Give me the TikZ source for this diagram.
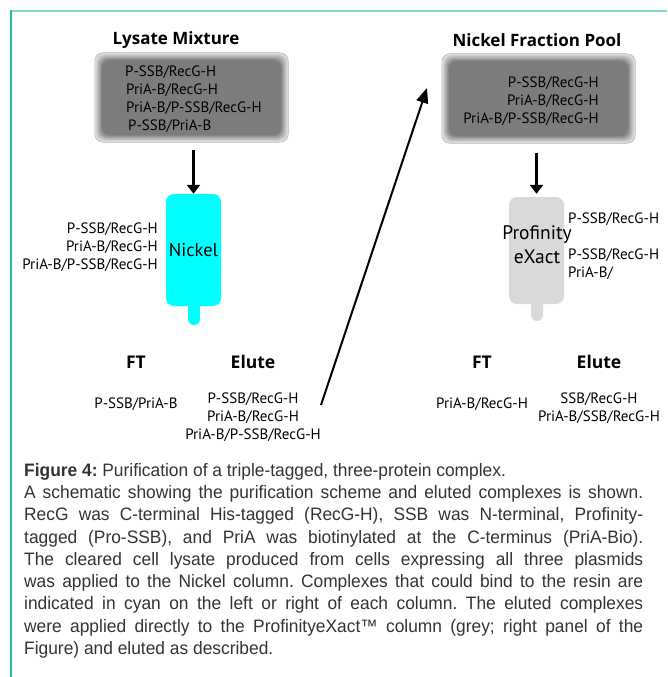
\documentclass[tikz,border=0pt]{standalone}
\usepackage{fontspec}
\setmainfont{PT Sans}
\newfontfamily\capfont[FakeStretch=0.965]{Liberation Sans}
\newfontfamily\hdrfont{Open Sans}
\usetikzlibrary{arrows.meta}
\definecolor{topline}{HTML}{80DAC8}
\definecolor{leftline}{HTML}{22C0A8}
\definecolor{colcyan}{HTML}{00FFFF}
\definecolor{colgrey}{HTML}{D9D9D9}
\definecolor{captext}{HTML}{333333}
\tikzset{
  lbl/.style={inner sep=0, font=\fontsize{15}{18}\selectfont},
  ttl/.style={inner sep=0, font=\hdrfont\fontsize{17}{20}\selectfont\bfseries},
  hdr/.style={inner sep=0, font=\hdrfont\fontsize{17.5}{20}\selectfont\bfseries},
  boxframe/.style={minimum width=193, minimum height=89, inner sep=0},
  column/.style={minimum width=55, rounded corners=8, inner sep=0},
  downarrow/.style={line width=2.6pt, -{Triangle[width=13pt,length=9pt]}},
  longarrow/.style={line width=2pt, -{Triangle[width=12pt,length=15pt]}}
}
\newcommand{\shadedbox}[1]{%
  \foreach \i [evaluate=\i as \c using 10+\i*4.6] in {0,...,9}{%
    \fill[black!\c, rounded corners=8]
      ([shift={(\i*0.8,\i*0.8)}]#1.north west) rectangle
      ([shift={(-\i*0.8,-\i*0.8)}]#1.south east);
  }%
  \draw[black!30, line width=0.6pt, rounded corners=8] (#1.north west) rectangle (#1.south east);
}
\begin{document}
\begin{tikzpicture}[x=1pt, y=-1pt]
\useasboundingbox (0,0) rectangle (667,677);
% frame lines
\draw[topline, line width=2.2pt] (10,11) -- (667,11);
\draw[leftline, line width=1.6pt] (10.8,10) -- (10.8,677);

% ---------- left panel ----------
\node[ttl] (t1) at (176,40) {Lysate Mixture};
\node[boxframe] (box1) at (191.5,97.5) {};
\shadedbox{box1}
\node[lbl, anchor=west] (b1l1) at (125,72) {P-SSB/RecG-H};
\node[lbl, anchor=west] (b1l2) at (126,90) {PriA-B/RecG-H};
\node[lbl, anchor=west] (b1l3) at (126,108) {PriA-B/P-SSB/RecG-H};
\node[lbl, anchor=west] (b1l4) at (128,126) {P-SSB/PriA-B};

\fill[colcyan, rounded corners=6] (188,290) rectangle (200,325);
\node[column, minimum height=112, fill=colcyan, font=\fontsize{18.5}{20}\selectfont] (col1) at (193.5,250) {Nickel};
\draw[downarrow, shorten <=8pt] (box1.south -| col1.north) -- (col1.north);

\node[lbl, anchor=east, align=right] (nilab) at (158,247) {P-SSB/RecG-H\\PriA-B/RecG-H\\PriA-B/P-SSB/RecG-H};

\node[hdr] (ft1) at (136,362) {FT};
\node[hdr] (el1) at (253,362) {Elute};
\node[lbl] (ft1l) at (136,404) {P-SSB/PriA-B};
\node[lbl, align=center] (el1l) at (253,417) {P-SSB/RecG-H\\PriA-B/RecG-H\\PriA-B/P-SSB/RecG-H};

% long arrow
\coordinate (la1) at (321,405);
\coordinate (la2) at (427,88);
\draw[longarrow] (la1) -- (la2);

% ---------- right panel ----------
\node[ttl] (t2) at (537,40) {Nickel Fraction Pool};
\node[boxframe] (box2) at (538.5,98.5) {};
\shadedbox{box2}
\node[lbl, anchor=east, align=right] (b2l) at (599,101) {P-SSB/RecG-H\\PriA-B/RecG-H\\PriA-B/P-SSB/RecG-H};

\fill[colgrey, rounded corners=6] (531,290) rectangle (543,321);
\node[column, minimum height=107, fill=colgrey] (col2) at (536.5,250.5) {};
\node[inner sep=0, align=center, font=\fontsize{19.5}{24}\selectfont] (col2t) at (537,245) {Profinity\\eXact};
\draw[downarrow, shorten <=10pt, shorten >=3pt] (box2.south -| col2.north) -- (col2.north);

\node[lbl, anchor=west] (pr1) at (568,219) {P-SSB/RecG-H};
\node[lbl, anchor=west, align=left] (pr2) at (568,264) {P-SSB/RecG-H\\PriA-B/};

\node[hdr] (ft2) at (482,362) {FT};
\node[hdr] (el2) at (599,362) {Elute};
\node[lbl] (ft2l) at (482,404) {PriA-B/RecG-H};
\node[lbl, align=center] (el2l) at (599,408) {SSB/RecG-H\\PriA-B/SSB/RecG-H};

% ---------- caption ----------
\node[anchor=north west, inner sep=0, align=left, text=captext,
      font=\capfont\fontsize{18}{22.25}\selectfont\frenchspacing] (caption) at (24,463) {%
\textbf{Figure 4:} Purification of a triple-tagged, three-protein complex.\\
\makebox[619pt][s]{A schematic showing the purification scheme and eluted complexes is shown.}\\
\makebox[619pt][s]{RecG was C-terminal His-tagged (RecG-H), SSB was N-terminal, Profinity-}\\
\makebox[619pt][s]{tagged (Pro-SSB), and PriA was biotinylated at the C-terminus (PriA-Bio).}\\
\makebox[619pt][s]{The cleared cell lysate produced from cells expressing all three plasmids}\\
\makebox[619pt][s]{was applied to the Nickel column. Complexes that could bind to the resin are}\\
\makebox[619pt][s]{indicated in cyan on the left or right of each column. The eluted complexes}\\
\makebox[619pt][s]{were applied directly to the ProfinityeXact™ column (grey; right panel of the}\\
Figure) and eluted as described.};
\end{tikzpicture}
\end{document}
